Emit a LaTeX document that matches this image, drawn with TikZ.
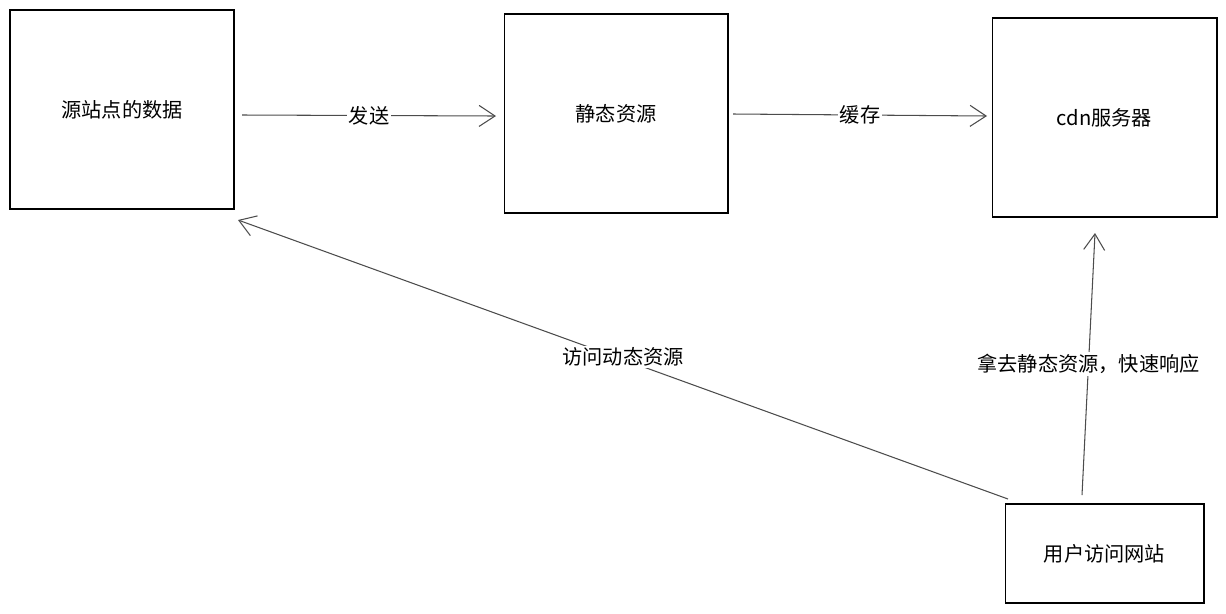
\documentclass[tikz,border=0pt]{standalone}
\usepackage{fontspec}
\setmainfont{Noto Sans CJK SC}
\usetikzlibrary{arrows.meta,positioning}
\begin{document}
\begin{tikzpicture}[x=0.02cm,y=-0.02cm,
  box/.style={draw, line width=0.6pt, inner sep=0pt, font=\fontsize{11.5}{13}\selectfont},
  arr/.style={-{Straight Barb[length=3.2mm,width=4.2mm]}, line width=0.6pt, draw=black!70},
  lbl/.style={fill=white, inner sep=1pt, font=\fontsize{11.5}{13}\selectfont}
]
\useasboundingbox (0,0) rectangle (1226,613);

\node[box, minimum width=4.48cm, minimum height=3.98cm] (src) at (122,109.5) {源站点的数据};
\node[box, minimum width=4.48cm, minimum height=3.98cm] (static) at (616,113.5) {静态资源};
\node[box, minimum width=4.5cm, minimum height=3.98cm] (cdn) at (1104.5,117.5) {cdn服务器};
\node[box, minimum width=3.98cm, minimum height=1.98cm] (user) at (1104.5,553.5) {用户访问网站};

% connectors
\coordinate (s1) at (242,115);
\coordinate (s2) at (496,116);
\coordinate (c1) at (733,114);
\coordinate (c2) at (987,116);
\coordinate (u1) at (1008,499);
\coordinate (u2) at (1082,495);
\coordinate (a1) at (238,220);
\coordinate (d1) at (1095,233);
\draw[arr] (s1) -- (s2) node[lbl, pos=0.5] {发送};
\draw[arr] (c1) -- (c2) node[lbl, pos=0.5] {缓存};
\draw[arr] (u1) -- (a1) node[lbl, pos=0.5, yshift=0.05cm] {访问动态资源};
\draw[arr] (u2) -- (d1) node[lbl, pos=0.5] {拿去静态资源，快速响应};

\end{tikzpicture}
\end{document}
